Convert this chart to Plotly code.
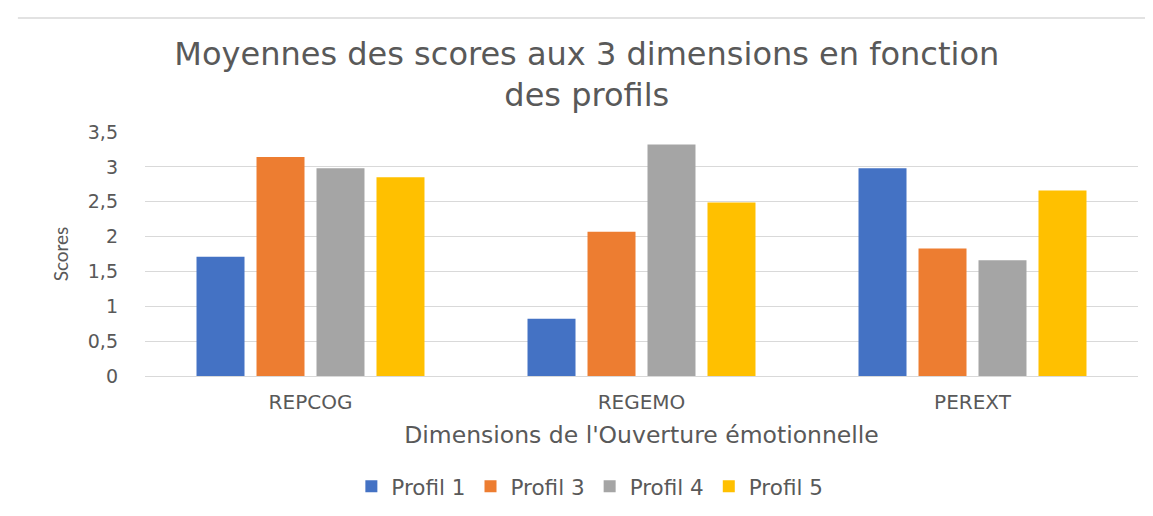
import plotly.graph_objects as go

categories = ["REPCOG", "REGEMO", "PEREXT"]
profil_1 = [1.71, 0.82, 2.98]
profil_3 = [3.14, 2.07, 1.83]
profil_4 = [2.98, 3.32, 1.66]
profil_5 = [2.85, 2.49, 2.66]
series_names = ["Profil 1", "Profil 3", "Profil 4", "Profil 5"]
colors = ["#4472C4", "#ED7D31", "#A5A5A5", "#FFC000"]
y_ticks = [0, 0.5, 1, 1.5, 2, 2.5, 3, 3.5]
y_tick_labels = ["0", "0,5", "1", "1,5", "2", "2,5", "3", "3,5"]

FONT = "'DejaVu Sans', sans-serif"
GRAY = "#595959"

fig = go.Figure()
for name, vals, col in zip(series_names, [profil_1, profil_3, profil_4, profil_5], colors):
    fig.add_trace(go.Bar(name=name, x=categories, y=vals, marker_color=col,
                         marker_line_width=0))

fig.update_layout(
    width=1153, height=516,
    paper_bgcolor="white", plot_bgcolor="white",
    barmode="group", bargap=0.275, bargroupgap=0.2,
    margin=dict(l=137, r=23, t=124, b=148, autoexpand=False),
    title=dict(text="Moyennes des scores aux 3 dimensions en fonction<br>des profils",
               x=0.502, xanchor="center", y=0.8900, yanchor="middle",
               font=dict(family=FONT, size=32, color=GRAY)),
    font=dict(family=FONT, color=GRAY, size=17),
    showlegend=True,
    legend=dict(orientation="h", x=0.448, xanchor="center", y=-0.368, yanchor="top",
                font=dict(family=FONT, size=21.5, color=GRAY), itemwidth=30,
                traceorder="normal"),
    xaxis=dict(title=dict(text="Dimensions de l'Ouverture émotionnelle",
                          font=dict(family=FONT, size=23.5, color=GRAY), standoff=13),
               tickfont=dict(family=FONT, size=20, color=GRAY),
               showline=True, linecolor="#d9d9d9", ticks="", showgrid=False,
               automargin=False, ticklabelstandoff=8),
    yaxis=dict(title=dict(text="Scores", font=dict(family="Lato, sans-serif", size=19, color=GRAY),
                          standoff=14),
               range=[0, 3.5], tickvals=y_ticks, ticktext=y_tick_labels,
               tickfont=dict(family=FONT, size=19, color=GRAY),
               showgrid=True, gridcolor="#d9d9d9", gridwidth=1,
               zeroline=False, ticks="", ticklabelstandoff=26, automargin=False),
    shapes=[dict(type="line", xref="paper", yref="paper",
                 x0=-0.128, x1=1.03, y0=1.467, y1=1.467,
                 line=dict(color="#d9d9d9", width=1.5))],
)

fig.write_html("out.html")
